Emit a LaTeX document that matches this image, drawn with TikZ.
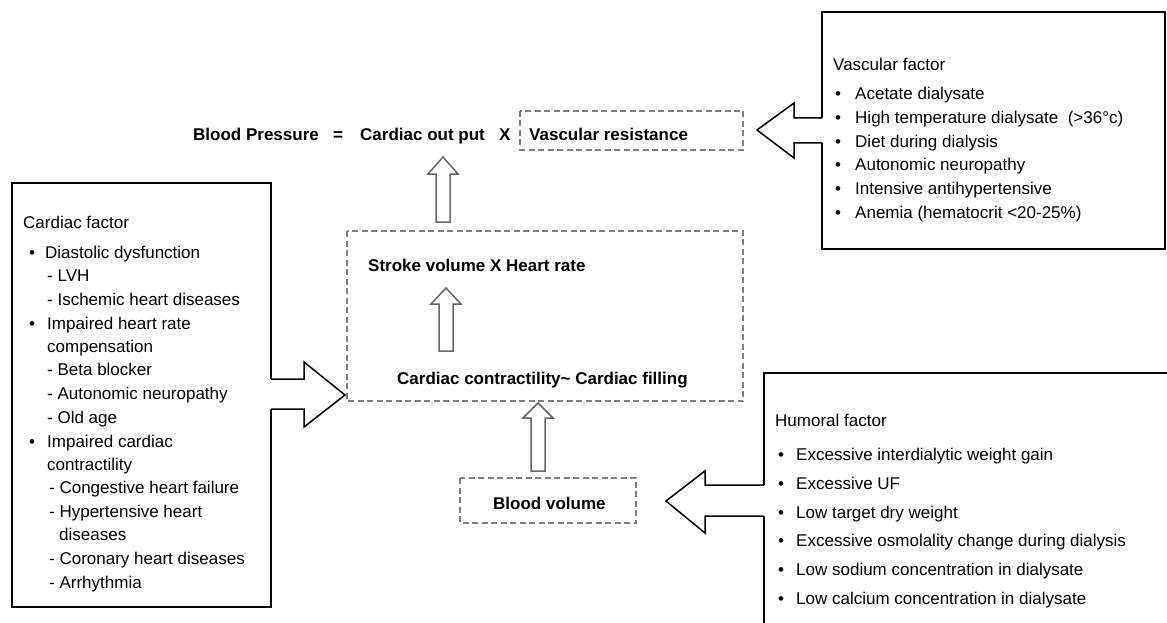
\documentclass[tikz,border=0pt]{standalone}
\usepackage{fontspec}
\setmainfont{Liberation Sans}
\usetikzlibrary{positioning}
\begin{document}
\begin{tikzpicture}[x=1pt,y=-1pt,font=\fontsize{17}{20}\selectfont]
\tikzstyle{txt}=[anchor=base west,inner sep=0pt]
\tikzstyle{bold}=[anchor=base west,inner sep=0pt,font=\fontsize{17}{20}\selectfont\bfseries]
\tikzstyle{solidbox}=[draw,line width=1.5pt]
\tikzstyle{dashbox}=[draw=black!50,line width=1.8pt,dash pattern=on 6pt off 3.5pt]
\tikzstyle{hollow}=[draw=black!60,line width=1.5pt,fill=white,line join=miter]
\tikzstyle{bigarrow}=[draw,line width=1.5pt,line join=miter]

\clip (0,0) rectangle (1167,623);

% formula on top
\node[bold] (bp) at (193,141) {Blood Pressure};
\node[bold] (eq) at (333,141) {=};
\node[bold] (co) at (360,141) {Cardiac out put};
\node[bold] (x1) at (499,141) {X};
\node[bold] (vr) at (529,141) {Vascular resistance};
\draw[dashbox] (520,111) rectangle (743,150);

% cardiac output box
\draw[dashbox] (347,231) rectangle (743,401);
\node[bold] (sv) at (368,271) {Stroke volume X Heart rate};
\node[bold] (cc) at (397,384) {Cardiac contractility\char`~\ Cardiac filling};

% blood volume
\draw[dashbox] (460,478) rectangle (636,523);
\node[bold] (bv) at (493,509) {Blood volume};

% hollow up arrows
\coordinate (t1) at (443,157);
\coordinate (t2) at (446,288);
\coordinate (t3) at (538,403);
\draw[hollow] (t1) -- ++(15,17) -- ++(-8,0) -- ++(0,48) -- ++(-14,0) -- ++(0,-48) -- ++(-8,0) -- cycle;
\draw[hollow] (t2) -- ++(15,16) -- ++(-8,0) -- ++(0,47) -- ++(-14,0) -- ++(0,-47) -- ++(-8,0) -- cycle;
\draw[hollow] (t3) -- ++(15,15) -- ++(-8,0) -- ++(0,53) -- ++(-14,0) -- ++(0,-53) -- ++(-8,0) -- cycle;

% cardiac factor
\draw[solidbox] (12,183) rectangle (271,607);
\fill[white] (268,379) -- (304,379) -- (304,362) -- (345,395) -- (304,427) -- (304,409) -- (268,409) -- cycle;
\draw[bigarrow] (271,379) -- (304,379) -- (304,362) -- (345,395) -- (304,427) -- (304,409) -- (271,409);
\node[txt] (cf) at (23,228) {Cardiac factor};
\node[txt] (cb1) at (29,258) {•};
\node[txt] (c1) at (45,258) {Diastolic dysfunction};
\node[txt] (c2) at (47,281) {- LVH};
\node[txt] (c3) at (47,305) {- Ischemic heart diseases};
\node[txt] (cb2) at (29,329) {•};
\node[txt] (c4) at (47,329) {Impaired heart rate};
\node[txt] (c5) at (47,352) {compensation};
\node[txt] (c6) at (47,375) {- Beta blocker};
\node[txt] (c7) at (47,399) {- Autonomic neuropathy};
\node[txt] (c8) at (47,423) {- Old age};
\node[txt] (cb3) at (29,447) {•};
\node[txt] (c9) at (47,447) {Impaired cardiac};
\node[txt] (c10) at (47,470) {contractility};
\node[txt] (c11) at (49,493) {- Congestive heart failure};
\node[txt] (c12) at (49,517) {- Hypertensive heart};
\node[txt] (c13) at (59,540) {diseases};
\node[txt] (c14) at (49,564) {- Coronary heart diseases};
\node[txt] (c15) at (49,588) {- Arrhythmia};

% vascular factor
\draw[solidbox] (822,12) rectangle (1165,249);
\fill[white] (825,118) -- (794,118) -- (794,103) -- (757,130) -- (794,158) -- (794,143) -- (825,143) -- cycle;
\draw[bigarrow] (822,118) -- (794,118) -- (794,103) -- (757,130) -- (794,158) -- (794,143) -- (822,143);
\node[txt] (vf) at (833,71) {Vascular factor};
\foreach \y in {100,124,147,170,194,218}
  \node[txt] at (835,\y) {•};
\node[txt] (v1) at (855,100) {Acetate dialysate};
\node[txt] (v2) at (855,124) {High temperature dialysate\ \ (>36°c)};
\node[txt] (v3) at (855,147) {Diet during dialysis};
\node[txt] (v4) at (855,170) {Autonomic neuropathy};
\node[txt] (v5) at (855,194) {Intensive antihypertensive};
\node[txt] (v6) at (855,218) {Anemia (hematocrit <20-25\%)};

% humoral factor
\draw[solidbox] (764,640) -- (764,373) -- (1180,373);
\fill[white] (767,485) -- (705,485) -- (705,471) -- (666,501) -- (705,533) -- (705,516) -- (767,516) -- cycle;
\draw[bigarrow] (764,485) -- (705,485) -- (705,471) -- (666,501) -- (705,533) -- (705,516) -- (764,516);
\node[txt] (hf) at (775,426) {Humoral factor};
\foreach \y in {460,489,518,546,575,604}
  \node[txt] at (778,\y) {•};
\node[txt] (h1) at (796,460) {Excessive interdialytic weight gain};
\node[txt] (h2) at (796,489) {Excessive UF};
\node[txt] (h3) at (796,518) {Low target dry weight};
\node[txt] (h4) at (796,546) {Excessive osmolality change during dialysis};
\node[txt] (h5) at (796,575) {Low sodium concentration in dialysate};
\node[txt] (h6) at (796,604) {Low calcium concentration in dialysate};
\end{tikzpicture}
\end{document}
